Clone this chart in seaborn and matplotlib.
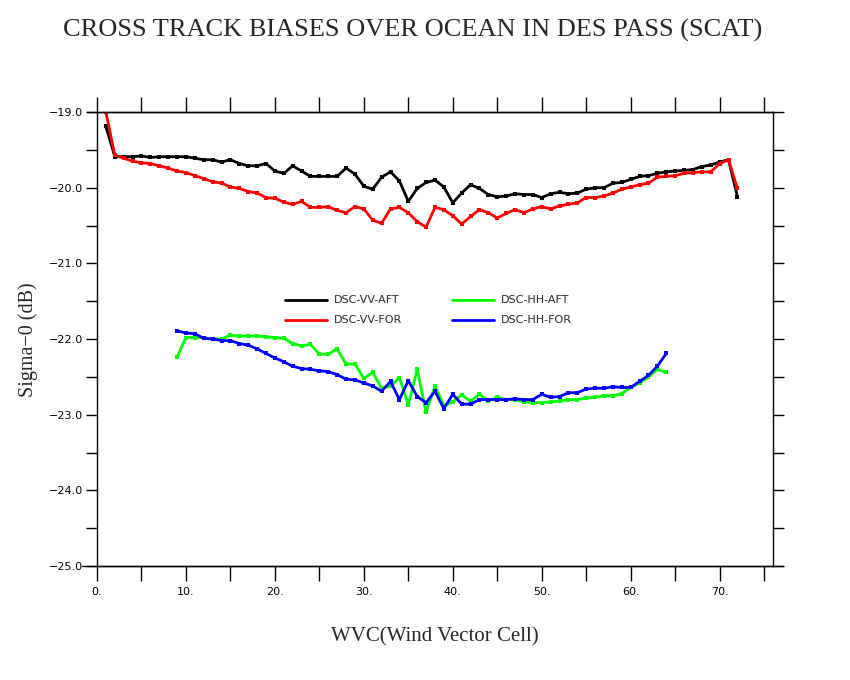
import numpy as np
import pandas as pd
import seaborn as sns
import matplotlib.pyplot as plt
from matplotlib.ticker import MultipleLocator, FuncFormatter

# cross track biases, sigma-0 (dB) per wind vector cell
vv_wvc = list(range(1, 73))
vv_aft = [-19.19, -19.59, -19.59, -19.59, -19.58, -19.60, -19.59, -19.59, -19.59, -19.59,
          -19.61, -19.63, -19.63, -19.66, -19.63, -19.68, -19.71, -19.71, -19.68, -19.78,
          -19.81, -19.71, -19.78, -19.85, -19.85, -19.85, -19.85, -19.74, -19.82, -19.98,
          -20.02, -19.86, -19.79, -19.91, -20.18, -20.01, -19.93, -19.90, -19.99, -20.20,
          -20.07, -19.96, -20.01, -20.09, -20.12, -20.11, -20.08, -20.09, -20.09, -20.13,
          -20.08, -20.06, -20.08, -20.07, -20.02, -20.00, -20.00, -19.94, -19.93, -19.89,
          -19.85, -19.84, -19.81, -19.79, -19.78, -19.77, -19.76, -19.72, -19.70, -19.66,
          -19.63, -20.12]
vv_for = [-19.00, -19.57, -19.61, -19.65, -19.67, -19.68, -19.71, -19.74, -19.78, -19.80,
          -19.84, -19.88, -19.92, -19.94, -19.99, -20.01, -20.05, -20.07, -20.13, -20.14,
          -20.19, -20.22, -20.18, -20.26, -20.26, -20.25, -20.30, -20.33, -20.25, -20.28,
          -20.43, -20.47, -20.28, -20.26, -20.33, -20.45, -20.52, -20.26, -20.29, -20.37,
          -20.48, -20.38, -20.29, -20.33, -20.40, -20.34, -20.29, -20.33, -20.28, -20.25,
          -20.28, -20.24, -20.22, -20.20, -20.13, -20.13, -20.11, -20.07, -20.02, -19.99,
          -19.96, -19.94, -19.86, -19.85, -19.84, -19.81, -19.80, -19.79, -19.79, -19.68,
          -19.63, -20.01]

hh_wvc = list(range(9, 65))
hh_aft = [-22.24, -21.98, -21.98, -21.98, -22.00, -22.00, -21.95, -21.96, -21.96, -21.96,
          -21.97, -21.98, -21.99, -22.06, -22.09, -22.07, -22.20, -22.20, -22.13, -22.33,
          -22.33, -22.52, -22.44, -22.65, -22.62, -22.51, -22.87, -22.40, -22.97, -22.62,
          -22.88, -22.83, -22.74, -22.82, -22.73, -22.82, -22.77, -22.80, -22.80, -22.83,
          -22.84, -22.84, -22.83, -22.82, -22.80, -22.80, -22.78, -22.77, -22.75, -22.75,
          -22.72, -22.64, -22.58, -22.50, -22.40, -22.44]
hh_for = [-21.89, -21.92, -21.93, -21.99, -22.00, -22.02, -22.02, -22.06, -22.08, -22.13,
          -22.19, -22.25, -22.30, -22.36, -22.39, -22.40, -22.42, -22.43, -22.47, -22.53,
          -22.54, -22.58, -22.62, -22.69, -22.56, -22.80, -22.55, -22.76, -22.84, -22.69,
          -22.92, -22.73, -22.86, -22.86, -22.80, -22.80, -22.80, -22.80, -22.79, -22.80,
          -22.80, -22.73, -22.77, -22.76, -22.71, -22.71, -22.66, -22.65, -22.65, -22.63,
          -22.64, -22.64, -22.56, -22.48, -22.36, -22.19]

# legend fills column by column: VV pair on the left, HH pair on the right
series_names = ['DSC-VV-AFT', 'DSC-VV-FOR', 'DSC-HH-AFT', 'DSC-HH-FOR']
colors = {'DSC-VV-AFT': 'black', 'DSC-VV-FOR': '#ff0000',
          'DSC-HH-AFT': '#00ff00', 'DSC-HH-FOR': '#0000ff'}

frames = [
    pd.DataFrame({'WVC': vv_wvc, 'Sigma0': vv_aft, 'Series': 'DSC-VV-AFT'}),
    pd.DataFrame({'WVC': vv_wvc, 'Sigma0': vv_for, 'Series': 'DSC-VV-FOR'}),
    pd.DataFrame({'WVC': hh_wvc, 'Sigma0': hh_aft, 'Series': 'DSC-HH-AFT'}),
    pd.DataFrame({'WVC': hh_wvc, 'Sigma0': hh_for, 'Series': 'DSC-HH-FOR'}),
]
df = pd.concat(frames, ignore_index=True)

sns.set_style('ticks')
plt.rcParams['font.family'] = ['DejaVu Sans']

fig = plt.figure(figsize=(8.5, 6.8), dpi=100)
ax = fig.add_axes([0.1141, 0.1676, 0.7953, 0.6676])

sns.lineplot(data=df, x='WVC', y='Sigma0', hue='Series', hue_order=series_names,
             palette=colors, marker='s', markersize=3, markeredgewidth=0,
             linewidth=2, ax=ax)

ax.set_xlim(0, 76)
ax.set_ylim(-25, -19)

ax.xaxis.set_major_locator(MultipleLocator(10))
ax.xaxis.set_minor_locator(MultipleLocator(5))
ax.yaxis.set_major_locator(MultipleLocator(1))
ax.yaxis.set_minor_locator(MultipleLocator(0.5))
ax.xaxis.set_major_formatter(FuncFormatter(lambda v, p: f'{int(round(v))}.'))
ax.yaxis.set_major_formatter(FuncFormatter(lambda v, p: f'{v:.1f}'.replace('-', '\u2212')))

ax.tick_params(axis='x', which='both', direction='out', length=11, width=1,
               top=True, bottom=True, labelsize=8, colors='black', pad=4)
ax.tick_params(axis='y', which='both', direction='out', length=8, width=1,
               left=True, right=True, labelsize=8, colors='black', pad=2)
for s in ax.spines.values():
    s.set_linewidth(1)
    s.set_color('black')

# axis lines running a little past the frame, as in the original
ax.axhline(-25, xmin=-0.022, xmax=1.015, color='black', lw=1, clip_on=False)
ax.axhline(-19, xmin=-0.015, xmax=1.0, color='black', lw=1, clip_on=False)

ax.set_xlabel('')
ax.set_ylabel('')
fig.text(0.511, 0.064, 'WVC(Wind Vector Cell)', ha='center', va='center',
         family='Liberation Serif', fontsize=15)
fig.text(0.033, 0.5, 'Sigma\u22120 (dB)', ha='center', va='center', rotation=90,
         family='Liberation Serif', fontsize=14.5)
fig.text(0.485, 0.955, 'CROSS TRACK BIASES OVER OCEAN IN DES PASS (SCAT)',
         ha='center', va='center', family='Liberation Serif', fontsize=19)

leg = ax.legend(loc='center', bbox_to_anchor=(0.49, 0.563), ncol=2, frameon=False,
                fontsize=8, handlelength=3.8, columnspacing=4.5, handletextpad=0.6,
                labelspacing=0.9)
for h in leg.legend_handles:
    h.set_marker('')
    h.set_linewidth(2)

fig.savefig('out.png', dpi=100)
